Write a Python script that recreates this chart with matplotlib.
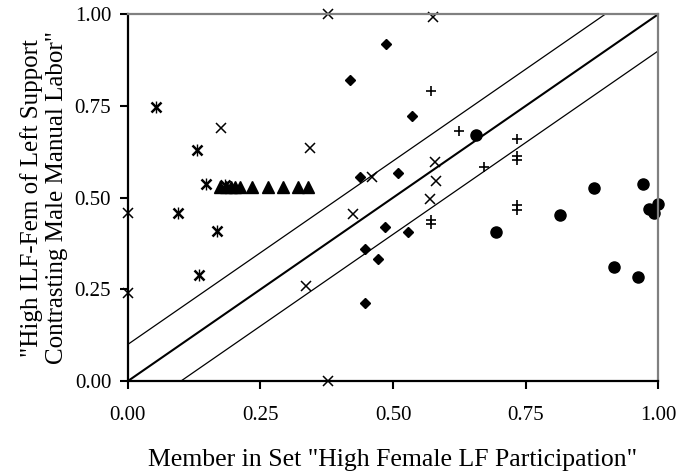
import matplotlib
matplotlib.use("Agg")
from matplotlib import pyplot as plt

plt.rcParams['font.family'] = ['Liberation Serif', 'DejaVu Serif']

# plain crosses
x_cross = [0.0, 0.0, 0.175, 0.343, 0.378, 0.335, 0.377, 0.424, 0.46, 0.576, 0.579, 0.581, 0.57]
y_cross = [0.457, 0.241, 0.689, 0.636, 1.0, 0.259, 0.0, 0.455, 0.557, 0.993, 0.598, 0.546, 0.495]

# starred crosses
x_star = [0.053, 0.131, 0.147, 0.094, 0.169, 0.134, 0.183]
y_star = [0.747, 0.629, 0.536, 0.457, 0.409, 0.289, 0.535]

# pluses
x_plus = [0.572, 0.625, 0.733, 0.733, 0.733, 0.672, 0.733, 0.733, 0.571, 0.571]
y_plus = [0.791, 0.681, 0.661, 0.613, 0.603, 0.584, 0.48, 0.465, 0.44, 0.428]

# diamonds
x_diam = [0.486, 0.419, 0.535, 0.438, 0.51, 0.485, 0.529, 0.448, 0.471, 0.448]
y_diam = [0.92, 0.822, 0.723, 0.557, 0.568, 0.419, 0.407, 0.359, 0.332, 0.212]

# triangles
x_tri = [0.174, 0.185, 0.194, 0.202, 0.211, 0.235, 0.265, 0.293, 0.32, 0.339]
y_tri = [0.53, 0.53, 0.53, 0.53, 0.53, 0.53, 0.53, 0.53, 0.53, 0.53]

# circles
x_circ = [0.657, 0.694, 0.815, 0.879, 0.972, 0.982, 0.992, 0.999, 0.916, 0.961]
y_circ = [0.67, 0.407, 0.452, 0.527, 0.536, 0.47, 0.457, 0.484, 0.31, 0.284]

fig = plt.figure(figsize=(6.8, 4.74), dpi=100)
ax = fig.add_axes([0.188, 0.196, 0.780, 0.774])

# diagonal and +/- 0.1 band
ax.plot([0, 1], [0, 1], color='black', lw=1.5)
ax.plot([0, 1], [0.1, 1.1], color='black', lw=0.9)
ax.plot([0, 1], [-0.1, 0.9], color='black', lw=0.9)

ax.plot(x_cross, y_cross, ls='none', marker='x', ms=7.5, mew=1.1, color='black', clip_on=False)
ax.plot(x_star, y_star, ls='none', marker='x', ms=6.5, mew=1.8, color='black', clip_on=False)
ax.plot(x_star, y_star, ls='none', marker='|', ms=8, mew=1.0, color='black', clip_on=False)
ax.plot(x_plus, y_plus, ls='none', marker='+', ms=7, mew=1.2, color='black', clip_on=False)
ax.plot(x_diam, y_diam, ls='none', marker='D', ms=5.5, color='black', clip_on=False)
ax.plot(x_tri, y_tri, ls='none', marker='^', ms=8, color='black', clip_on=False)
ax.plot(x_circ, y_circ, ls='none', marker='o', ms=8, color='black', clip_on=False)

ax.set_xlim(0, 1)
ax.set_ylim(0, 1)
ticks = [0, 0.25, 0.5, 0.75, 1.0]
ax.set_xticks(ticks)
ax.set_yticks(ticks)
ax.set_xticklabels(['0.00', '0.25', '0.50', '0.75', '1.00'])
ax.set_yticklabels(['0.00', '0.25', '0.50', '0.75', '1.00'])
ax.tick_params(axis='both', direction='out', length=6, width=1.5, labelsize=15, color='black')
ax.tick_params(axis='x', pad=12)
ax.tick_params(axis='y', pad=6)

for s in ['left', 'bottom']:
    ax.spines[s].set_linewidth(1.6)
    ax.spines[s].set_color('black')
for s in ['top', 'right']:
    ax.spines[s].set_linewidth(1.6)
    ax.spines[s].set_color('#808080')

ax.set_xlabel('Member in Set "High Female LF Participation"', fontsize=18.5, labelpad=17)
ax.set_ylabel('"High ILF-Fem of Left Support\nContrasting Male Manual Labor"', fontsize=18, labelpad=5,
              linespacing=1.15)

fig.savefig('out.png', dpi=100)
